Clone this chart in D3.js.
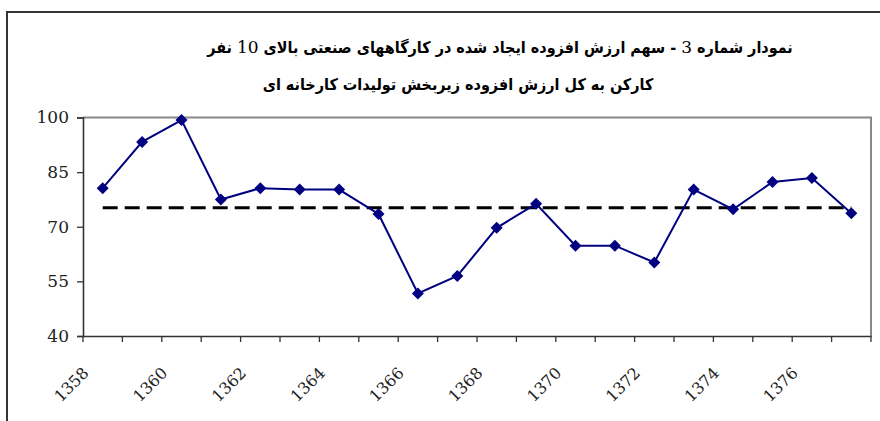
<!DOCTYPE html>
<html>
<head>
<meta charset="utf-8">
<script src="https://cdn.jsdelivr.net/npm/d3@7"></script>
<style>
  body { margin: 0; background: #fff; }
  svg { display: block; }
</style>
</head>
<body>
<div id="chart"></div>
<script>
// داده‌ها
const years = [1358, 1359, 1360, 1361, 1362, 1363, 1364, 1365, 1366, 1367,
               1368, 1369, 1370, 1371, 1372, 1373, 1374, 1375, 1376, 1377]
const shareValues = [80.6, 93.3, 99.3, 77.5, 80.6, 80.2, 80.2, 73.5, 51.7, 56.5,
                     69.7, 76.3, 64.8, 64.8, 60.2, 80.2, 74.8, 82.3, 83.4, 73.7]
const averageLevel = 75.2 // خط چین میانگین
const yTicks = [40, 55, 70, 85, 100]
const xLabelYears = [1358, 1360, 1362, 1364, 1366, 1368, 1370, 1372, 1374, 1376]
const titleLine1 = ['نمودار شماره ', '3', ' - سهم ارزش افزوده ایجاد شده در کارگاههای صنعتی بالای ', '10', ' نفر']
const titleLine2 = 'کارکن به کل ارزش افزوده زیربخش تولیدات کارخانه ای'

const W = 880, H = 421
const plot = { left: 83, right: 871, top: 117.5, bottom: 336 }

const svg = d3.select('#chart').append('svg')
              .attr('width', W)
              .attr('height', H)

// کادر بیرونی نمودار
svg.append('rect')
   .attr('x', 7).attr('y', 12)
   .attr('width', 920).attr('height', 440)
   .attr('fill', 'none')
   .attr('stroke', '#333')
   .attr('stroke-width', 2)

// عنوان
const titleG = svg.append('g')
                  .attr('font-family', 'DejaVu Sans Condensed, DejaVu Sans')
                  .attr('font-weight', 'bold')
                  .attr('font-size', 16)
                  .attr('fill', '#000')
const t1 = titleG.append('text')
                 .attr('x', 500).attr('y', 53)
                 .attr('text-anchor', 'middle')
                 .attr('direction', 'rtl')
t1.selectAll('tspan')
  .data(titleLine1)
  .join('tspan')
  .attr('font-family', (d) => /\d/.test(d) ? 'DejaVu Serif' : null)
  .attr('font-weight', (d) => /\d/.test(d) ? 'normal' : null)
  .attr('font-size', (d) => /\d/.test(d) ? 17 : null)
  .text((d) => d)
titleG.append('text')
      .attr('x', 458).attr('y', 90)
      .attr('text-anchor', 'middle')
      .attr('direction', 'rtl')
      .text(titleLine2)

const x = d3.scaleBand()
            .domain(years)
            .range([plot.left, plot.right])
            .paddingInner(0).paddingOuter(0)
const y = d3.scaleLinear()
            .domain([40, 100])
            .range([plot.bottom, plot.top])
const cx = (d) => x(d) + x.bandwidth() / 2

// قاب خاکستری ناحیه رسم
svg.append('path')
   .attr('d', `M${plot.left},${plot.top}H${plot.right}V${plot.bottom}`)
   .attr('fill', 'none')
   .attr('stroke', '#888')
   .attr('stroke-width', 2)

// محور y
const yAxis = svg.append('g')
                 .attr('transform', `translate(${plot.left},0)`)
                 .call(d3.axisLeft(y).tickValues(yTicks).tickSize(6).tickPadding(8))
yAxis.select('.domain').attr('stroke', '#333').attr('stroke-width', 1.6)
yAxis.selectAll('.tick line').attr('stroke', '#333').attr('stroke-width', 1.3)
yAxis.selectAll('.tick text')
     .attr('font-family', 'DejaVu Serif')
     .attr('font-size', 17)
     .attr('fill', '#222')

// محور x (تیک‌ها بین دسته‌ها)
const xAxis = svg.append('g')
                 .attr('transform', `translate(0,${plot.bottom})`)
                 .call(d3.axisBottom(x).tickSize(0).tickFormat(''))
xAxis.select('.domain').attr('stroke', '#333').attr('stroke-width', 1.6)
const edges = years.map((d) => x(d)).concat([plot.right])
xAxis.selectAll('.edge-tick')
     .data(edges)
     .join('line')
     .attr('class', 'edge-tick')
     .attr('x1', (d) => d).attr('x2', (d) => d)
     .attr('y1', 0).attr('y2', 6)
     .attr('stroke', '#333')
     .attr('stroke-width', 1.3)

// برچسب سال‌ها با چرخش ۴۵ درجه
const labelG = svg.append('g')
                  .attr('font-family', 'DejaVu Serif')
                  .attr('font-size', 16)
                  .attr('fill', '#222')
const lab = labelG.selectAll('g')
                  .data(xLabelYears)
                  .join('g')
                  .attr('transform', (d) => `translate(${cx(d) - 13},${plot.bottom + 38})`)
lab.append('text')
   .attr('transform', 'rotate(-45)')
   .style('text-anchor', 'end')
   .text((d) => d)

// خط چین میانگین
svg.append('line')
   .attr('x1', cx(years[0]))
   .attr('x2', cx(years[years.length - 1]))
   .attr('y1', y(averageLevel)).attr('y2', y(averageLevel))
   .attr('stroke', '#000')
   .attr('stroke-width', 3)
   .attr('stroke-dasharray', '15,7')

// سری اصلی
const series = years.map((d, i) => ({ year: d, value: shareValues[i] }))
svg.append('path')
   .datum(series)
   .attr('fill', 'none')
   .attr('stroke', '#000080')
   .attr('stroke-width', 2)
   .attr('d', d3.line().x((d) => cx(d.year)).y((d) => y(d.value)))

svg.selectAll('.marker')
   .data(series)
   .join('path')
   .attr('class', 'marker')
   .attr('d', d3.symbol(d3.symbolSquare, 72))
   .attr('transform', (d) => `translate(${cx(d.year)},${y(d.value)}) rotate(45)`)
   .attr('fill', '#000080')
   .append('title')
   .text((d) => `${d.year}: ${d.value}`)
</script>
</body>
</html>
